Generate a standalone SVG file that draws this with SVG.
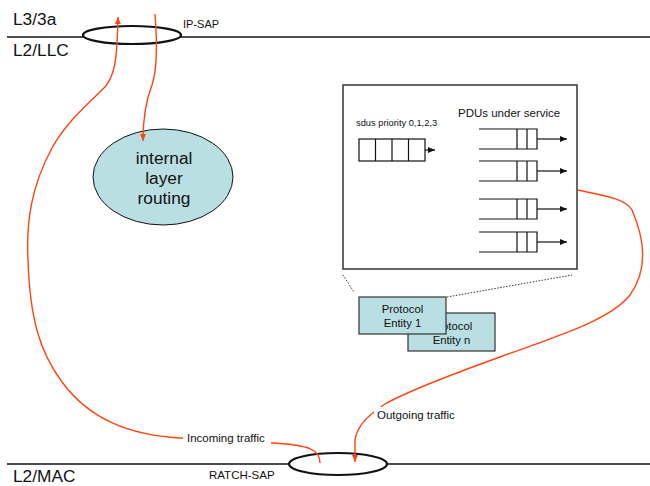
<svg xmlns="http://www.w3.org/2000/svg" width="650" height="486" viewBox="0 0 650 486">
<style>
text{font-family:"Liberation Sans",Arial,sans-serif;fill:#111}
.big{font-size:17.3px}
.sm{font-size:11.5px}
.or{fill:none;stroke:#ff4412;stroke-width:1.4}
.blk{fill:none;stroke:#111;stroke-width:1.2}
.ent{fill:#badfe3;stroke:#333;stroke-width:1.2}
.et{font-size:11.3px}
</style>
<defs>
<marker id="oa" markerUnits="userSpaceOnUse" markerWidth="8" markerHeight="8" viewBox="0 0 8 8" refX="7" refY="4" orient="auto">
<path d="M0,1 L7,4 L0,7 Z" fill="#ff4412"/>
</marker>
<marker id="ba" markerUnits="userSpaceOnUse" markerWidth="8" markerHeight="8" viewBox="0 0 8 8" refX="7" refY="4" orient="auto">
<path d="M0,1 L7,4 L0,7 Z" fill="#111"/>
</marker>
</defs>
<rect width="650" height="486" fill="#fff"/>
<g id="layers">
<line x1="7" y1="37" x2="650" y2="37" stroke="#111" stroke-width="1.3"/>
<line x1="7" y1="464" x2="650" y2="464" stroke="#111" stroke-width="1.3"/>
<text class="big" x="13" y="25">L3/3a</text>
<text class="big" x="13" y="56">L2/LLC</text>
<text class="big" x="13" y="482">L2/MAC</text>
</g>
<g id="ip-sap">
<ellipse cx="132" cy="35" rx="49" ry="9" fill="#fff" stroke="#111" stroke-width="2.2"/>
<text x="183" y="28" font-size="11">IP-SAP</text>
</g>
<g id="ratch-sap">
<ellipse cx="338" cy="464" rx="49" ry="11" fill="#fff" stroke="#111" stroke-width="2.2"/>
<text class="sm" x="209" y="479">RATCH-SAP</text>
</g>
<g id="routing">
<ellipse cx="163" cy="177" rx="70" ry="48" fill="#badfe3" stroke="#111" stroke-width="1"/>
<text class="big" x="164" y="164" text-anchor="middle">internal</text>
<text class="big" x="164" y="184" text-anchor="middle">layer</text>
<text class="big" x="164" y="204" text-anchor="middle">routing</text>
</g>
<g id="connectors">
<path class="or" d="M155,14 C157,40 157,70 152,85 C146,100 143,120 143,141" marker-end="url(#oa)"/>
<path class="or" d="M320,463 C320,450 310,445 273,443 L180,438 C130,435 90,420 62,382 C40,352 30,320 28,260 C26,220 32,185 52,148 C66,122 90,102 105,87 C115,75 117,60 118,17" marker-end="url(#oa)"/>
<path class="or" d="M578,190 C600,195 625,198 632,210 C645,240 648,270 630,295 C610,320 560,335 500,357 C450,375 410,390 385,404 C370,414 357,425 355,440 L355,462" marker-end="url(#oa)"/>
<line x1="343" y1="275" x2="354" y2="292" stroke="#333" stroke-width="1" stroke-dasharray="1.5,1.5"/>
<line x1="447" y1="297" x2="572" y2="275" stroke="#333" stroke-width="1" stroke-dasharray="1.5,1.5"/>
</g>
<g id="labels">
<rect x="183" y="430" width="88" height="15" fill="#fff"/>
<text class="sm" x="187" y="442">Incoming traffic</text>
<rect x="374" y="407" width="84" height="15" fill="#fff"/>
<text class="sm" x="377" y="419">Outgoing traffic</text>
</g>
<g id="scheduler">
<rect x="343" y="85" width="234" height="184" fill="#fff" stroke="#333" stroke-width="1.5"/>
<text x="356" y="126" font-size="9.3">sdus priority 0,1,2,3</text>
<text x="458" y="117" font-size="11.5">PDUs under service</text>
<rect class="blk" x="359" y="139" width="66" height="22"/>
<path class="blk" d="M375.5,139 V161 M392,139 V161 M408.5,139 V161"/>
<line x1="425" y1="150" x2="435" y2="150" stroke="#111" stroke-width="1.2" marker-end="url(#ba)"/>
<g id="pdu1">
<path class="blk" d="M479,129 H537 V149 H479 M517,129 V149 M527,129 V149"/>
<line x1="537" y1="139" x2="567" y2="139" stroke="#111" stroke-width="1.2" marker-end="url(#ba)"/>
</g>
<g id="pdu2">
<path class="blk" d="M479,161 H537 V181 H479 M517,161 V181 M527,161 V181"/>
<line x1="537" y1="171" x2="567" y2="171" stroke="#111" stroke-width="1.2" marker-end="url(#ba)"/>
</g>
<g id="pdu3">
<path class="blk" d="M479,199 H537 V219 H479 M517,199 V219 M527,199 V219"/>
<line x1="537" y1="209" x2="567" y2="209" stroke="#111" stroke-width="1.2" marker-end="url(#ba)"/>
</g>
<g id="pdu4">
<path class="blk" d="M479,232 H537 V252 H479 M517,232 V252 M527,232 V252"/>
<line x1="537" y1="242" x2="567" y2="242" stroke="#111" stroke-width="1.2" marker-end="url(#ba)"/>
</g>
</g>
<g id="entity-n">
<rect class="ent" x="408" y="313" width="87" height="38"/>
<text class="et" x="451.5" y="330" text-anchor="middle">Protocol</text>
<text class="et" x="451.5" y="344" text-anchor="middle">Entity n</text>
</g>
<g id="entity-1">
<rect class="ent" x="359" y="297" width="87" height="37"/>
<text class="et" x="402.5" y="313" text-anchor="middle">Protocol</text>
<text class="et" x="402.5" y="327" text-anchor="middle">Entity 1</text>
</g>
</svg>
